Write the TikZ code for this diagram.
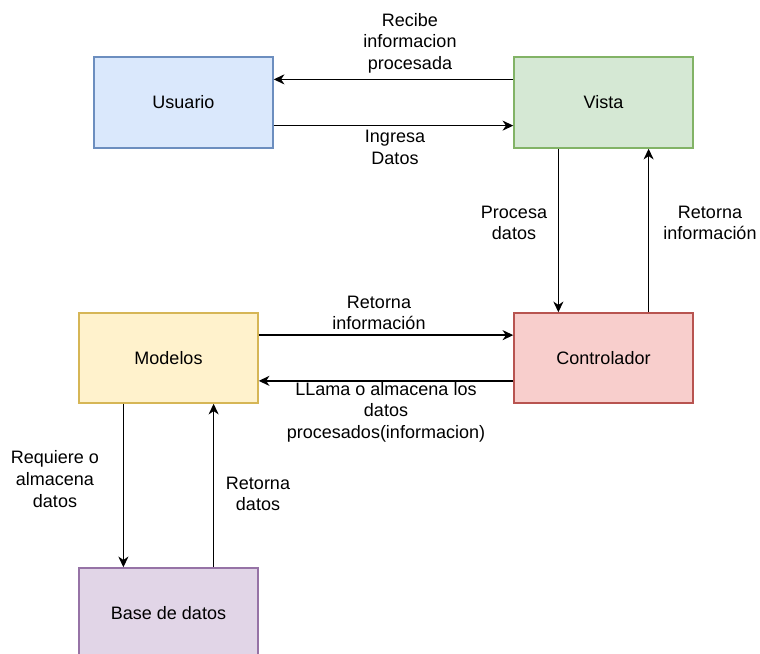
\documentclass[tikz,border=0pt]{standalone}
\usepackage{fontspec}
\setmainfont{Liberation Sans}
\usetikzlibrary{calc,arrows.meta}
\definecolor{bluef}{HTML}{DAE8FC}\definecolor{bluel}{HTML}{6C8EBF}
\definecolor{greenf}{HTML}{D5E8D4}\definecolor{greenl}{HTML}{82B366}
\definecolor{yellowf}{HTML}{FFF2CC}\definecolor{yellowl}{HTML}{D6B656}
\definecolor{redf}{HTML}{F8CECC}\definecolor{redl}{HTML}{B85450}
\definecolor{purplef}{HTML}{E1D5E7}\definecolor{purplel}{HTML}{9673A6}
\begin{document}
\begin{tikzpicture}[x=0.75pt,y=-0.75pt,
  box/.style={draw, line width=1.1pt, minimum width=134.25pt, minimum height=68.25pt, inner sep=0pt, font=\fontsize{13.5}{16.2}\selectfont},
  lbl/.style={align=center, inner sep=0pt, font=\fontsize{13.5}{16.2}\selectfont},
  arr/.style={line width=1.1pt, -{Stealth[length=8pt,width=7.5pt,inset=2.5pt]}}]
\path[use as bounding box] (0,0) rectangle (760,653);
\clip (0,0) rectangle (760,653);
\node[box, fill=bluef, draw=bluel] (usuario) at (183.5,102.5) {Usuario};
\node[box, fill=greenf, draw=greenl] (vista) at (603.5,102.5) {Vista};
\node[box, fill=yellowf, draw=yellowl, minimum height=67.5pt] (modelos) at (168.5,358) {Modelos};
\node[box, fill=redf, draw=redl, minimum height=67.5pt] (control) at (603.5,358) {Controlador};
\node[box, fill=purplef, draw=purplel] (base) at (168.5,613.5) {Base de datos};

\draw[arr] ($(vista.north west)!0.25!(vista.south west)$) -- ($(usuario.north east)!0.25!(usuario.south east)$);
\draw[arr] ($(usuario.north east)!0.75!(usuario.south east)$) -- ($(vista.north west)!0.75!(vista.south west)$);
\draw[arr] ($(vista.south west)!0.25!(vista.south east)$) -- ($(control.north west)!0.25!(control.north east)$);
\draw[arr] ($(control.north west)!0.75!(control.north east)$) -- ($(vista.south west)!0.75!(vista.south east)$);
\draw[arr] ($(modelos.north east)!0.25!(modelos.south east)$) -- ($(control.north west)!0.25!(control.south west)$);
\draw[arr] ($(control.north west)!0.75!(control.south west)$) -- ($(modelos.north east)!0.75!(modelos.south east)$);
\draw[arr] ($(modelos.south west)!0.25!(modelos.south east)$) -- ($(base.north west)!0.25!(base.north east)$);
\draw[arr] ($(base.north west)!0.75!(base.north east)$) -- ($(modelos.south west)!0.75!(modelos.south east)$);

\node[lbl] (l1) at (410,43) {Recibe\\informacion\\procesada};
\node[lbl] (l2) at (395,147.5) {Ingresa\\Datos};
\node[lbl] (l3) at (514,223) {Procesa\\datos};
\node[lbl] (l4) at (710,223) {Retorna\\información};
\node[lbl] (l5) at (379,313) {Retorna\\información};
\node[lbl] (l6) at (386,412) {LLama o almacena los\\datos\\procesados(informacion)};
\node[lbl] (l7) at (55,479) {Requiere o\\almacena\\datos};
\node[lbl] (l8) at (258,494) {Retorna\\datos};
\end{tikzpicture}
\end{document}
